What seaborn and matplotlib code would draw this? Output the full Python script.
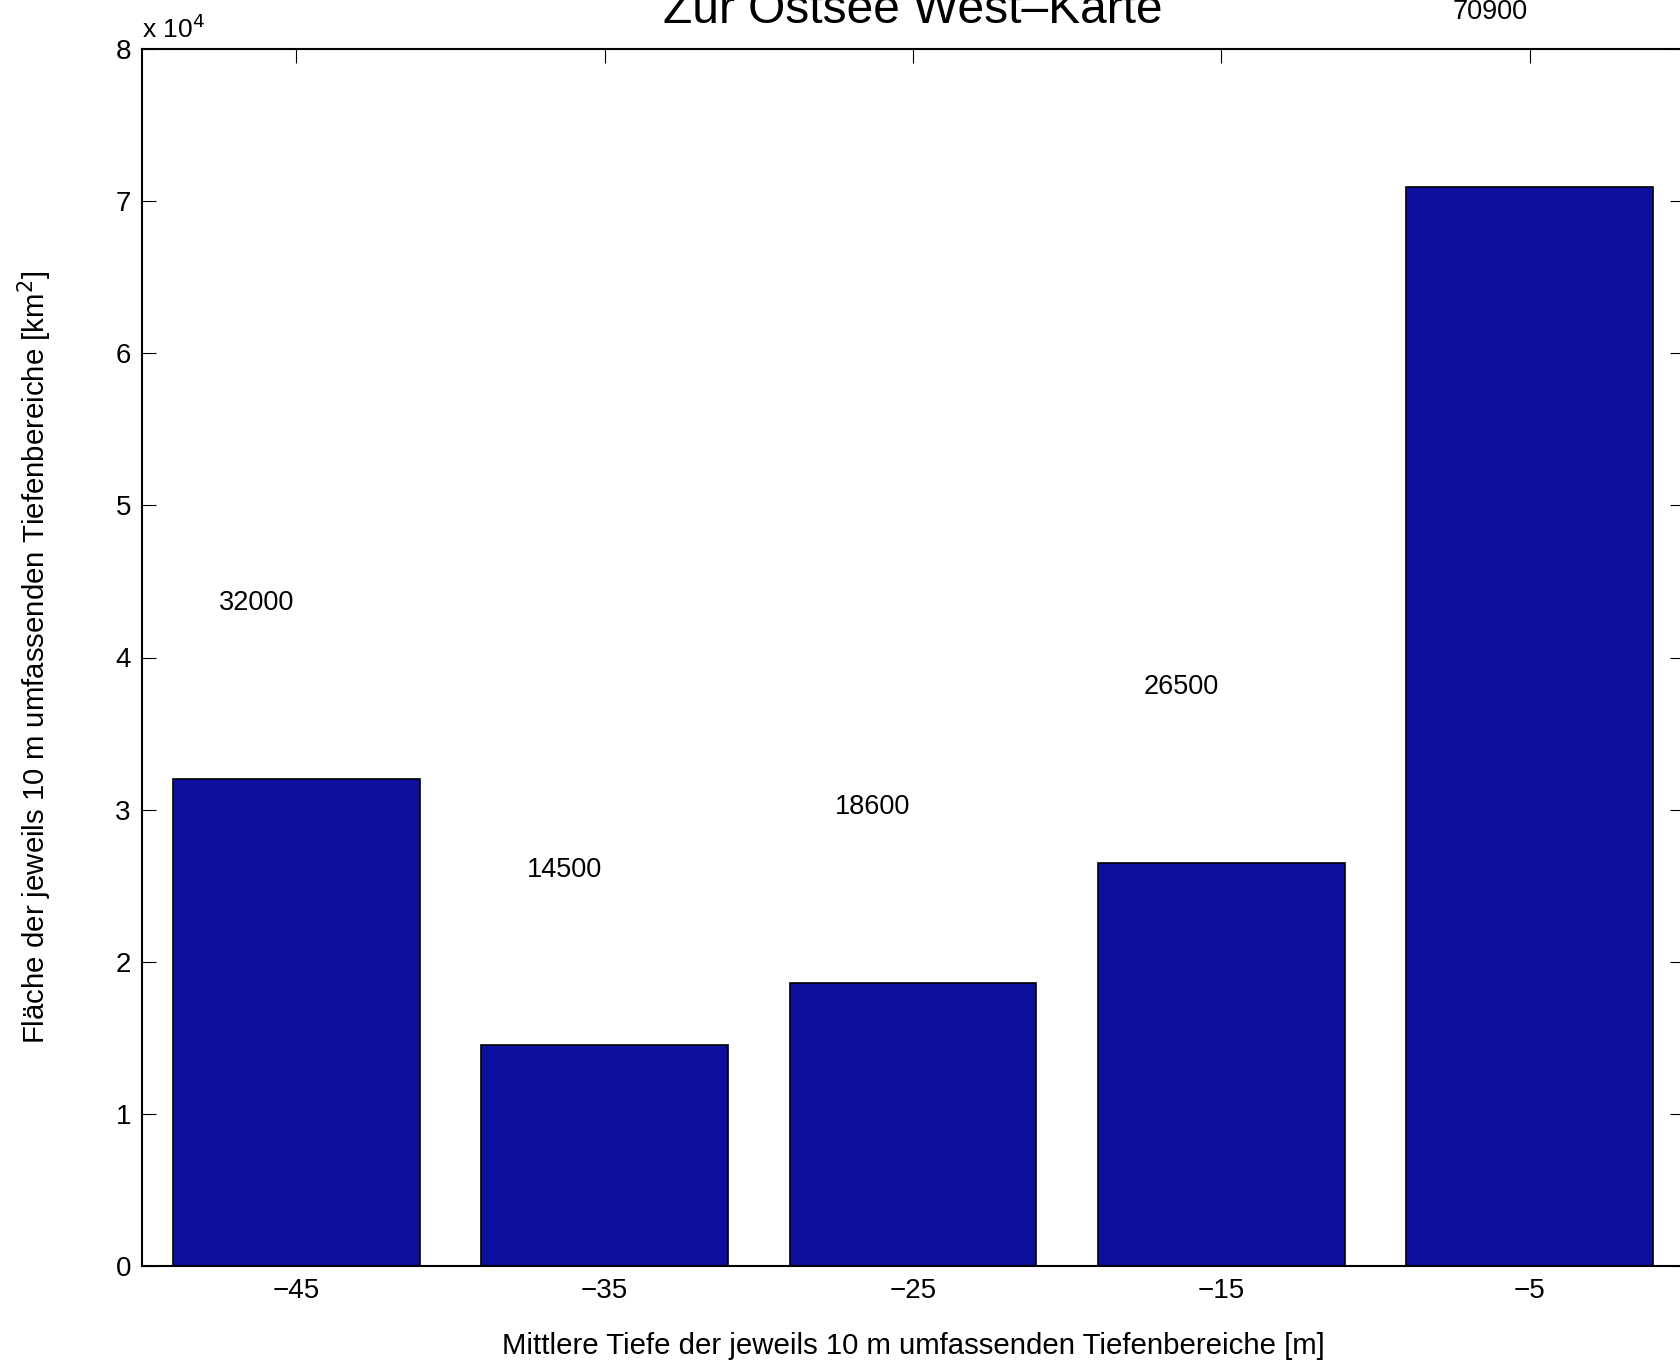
import numpy as np
import pandas as pd
import matplotlib
matplotlib.use("Agg")
import matplotlib.pyplot as plt
import seaborn as sns
from matplotlib.ticker import FuncFormatter

# data
depth = [-45, -35, -25, -15, -5]
area = [32000, 14500, 18600, 26500, 70900]
bar_labels = ["32000", "14500", "18600", "26500", "70900"]

sns.set_theme(style="white")
plt.rcParams["font.family"] = ["Liberation Sans", "DejaVu Sans"]
plt.rcParams.update({"text.color": "black", "axes.labelcolor": "black",
                     "xtick.color": "black", "ytick.color": "black"})

df = pd.DataFrame({"depth": depth, "area": area})

fig = plt.figure(figsize=(16.8, 13.64), dpi=100)
ax = fig.add_axes([142 / 1680, 1 - 1266 / 1364, 1542 / 1680, 1217 / 1364])

sns.barplot(data=df, x="depth", y="area", native_scale=True, width=0.8,
            color="#0d0f9f", saturation=1, edgecolor="black", linewidth=1.2, ax=ax)

# value labels above bars (MATLAB-style text offset)
for x, v, s in zip(depth, area, bar_labels):
    ax.text(x - 1.3, v + 11100, s, ha="center", va="baseline", fontsize=19.5, clip_on=False)

ax.set_xlim(-50, 0)
ax.set_ylim(0, 80000)
ax.set_xticks(depth)
ax.set_yticks(np.arange(0, 80001, 10000))
ax.yaxis.set_major_formatter(FuncFormatter(lambda v, p: f"{v / 1e4:g}"))
ax.text(0, 1.005, "x 10$^4$", transform=ax.transAxes, fontsize=19, ha="left", va="bottom")

ax.tick_params(direction="in", length=10, width=0.8, labelsize=20, pad=9,
               top=True, right=True, bottom=True, left=True)
ax.tick_params(axis="y", pad=8)
for sp in ax.spines.values():
    sp.set_color("black")
    sp.set_linewidth(1.5)

ax.set_title("Zur Ostsee West\u2013Karte", fontsize=34.5, pad=18.7)
ax.set_xlabel("Mittlere Tiefe der jeweils 10 m umfassenden Tiefenbereiche [m]", fontsize=21.2)
ax.set_ylabel("Fläche der jeweils 10 m umfassenden Tiefenbereiche [km$^2$]", fontsize=21.2)
ax.xaxis.set_label_coords(0.5, -0.0545)
ax.yaxis.set_label_coords(-0.057, 0.5)

plt.savefig("out.png", dpi=100)
plt.close()
